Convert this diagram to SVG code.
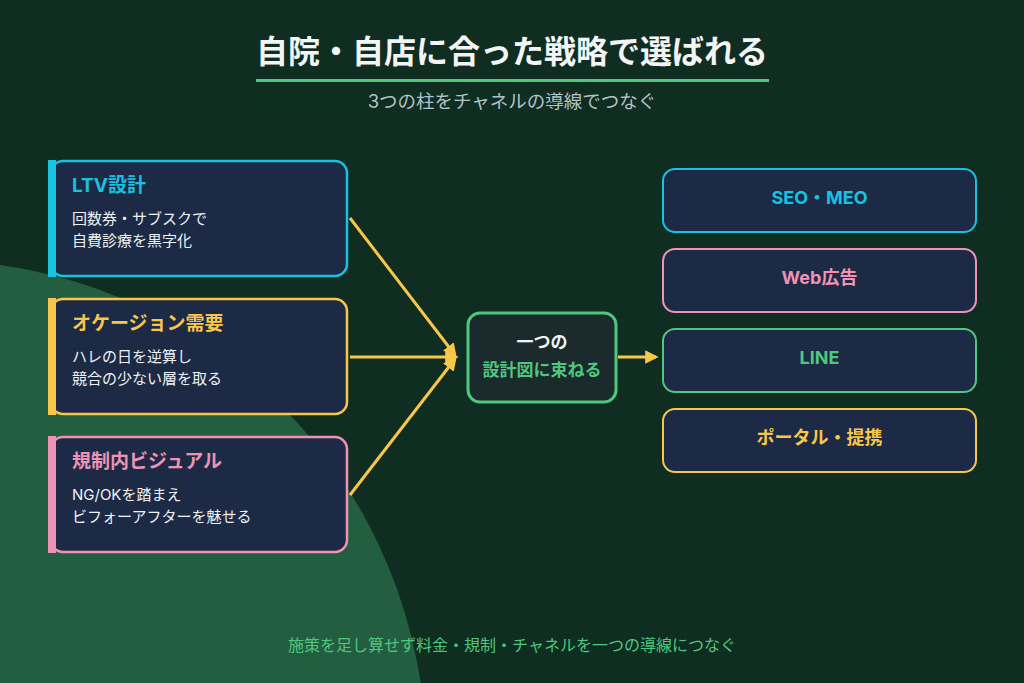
<svg xmlns="http://www.w3.org/2000/svg" width="1024" height="683" viewBox="0 0 1024 683">
<defs>
<style>
text{font-family:Inter,"Noto Sans CJK JP",sans-serif;}
.t{font-weight:700;font-size:19px;}
.tr{font-weight:700;font-size:18px;}
.b{font-size:15px;font-weight:400;fill:#eef2f5;}
.card{fill:#1d2a45;stroke-width:2.5;}
.ch{fill:#1d2a45;stroke-width:2;}
.c{text-anchor:middle;}
.conn{stroke:#f8c64b;stroke-width:3;fill:none;}
</style>
<marker id="ah" viewBox="0 0 10 10" refX="8" refY="5" markerWidth="4.5" markerHeight="4.5" orient="auto" markerUnits="strokeWidth">
<path d="M0,0 L10,5 L0,10 z" fill="#f8c64b"/>
</marker>
</defs>
<rect width="1024" height="683" fill="#0f2d21"/>
<circle cx="-70" cy="756" r="496" fill="#235e40"/>

<g id="title">
<text x="512" y="63" class="c" font-size="32" font-weight="700" fill="#f2f4f6">自院・自店に合った戦略で選ばれる</text>
<rect x="256" y="79" width="513" height="3" fill="#4fc77e"/>
<text x="512" y="108" class="c" font-size="18.5" fill="#b4c2c7">3つの柱をチャネルの導線でつなぐ</text>
</g>

<g id="connectors">
<line class="conn" x1="350" y1="218" x2="455" y2="355" marker-end="url(#ah)"/>
<line class="conn" x1="350" y1="357" x2="456" y2="357" marker-end="url(#ah)"/>
<line class="conn" x1="350" y1="495" x2="455" y2="359" marker-end="url(#ah)"/>
<line class="conn" x1="618" y1="357" x2="656" y2="357" marker-end="url(#ah)"/>
</g>

<g id="ltv">
<rect class="card" x="51" y="161" width="296" height="115" rx="12" stroke="#18c2e1"/>
<rect x="48" y="160" width="8" height="117" fill="#18c2e1"/>
<text x="72" y="192" class="t" fill="#18c2e1">LTV設計</text>
<text x="72" y="224" class="b">回数券・サブスクで</text>
<text x="72" y="246" class="b">自費診療を黒字化</text>
</g>

<g id="occasion">
<rect class="card" x="51" y="299" width="296" height="115" rx="12" stroke="#f8c64b"/>
<rect x="48" y="298" width="8" height="117" fill="#f8c64b"/>
<text x="72" y="330" class="t" fill="#f8c64b">オケージョン需要</text>
<text x="72" y="362" class="b">ハレの日を逆算し</text>
<text x="72" y="384" class="b">競合の少ない層を取る</text>
</g>

<g id="visual">
<rect class="card" x="51" y="437" width="296" height="115" rx="12" stroke="#ee93b6"/>
<rect x="48" y="436" width="8" height="117" fill="#ee93b6"/>
<text x="72" y="468" class="t" fill="#ee93b6">規制内ビジュアル</text>
<text x="72" y="500" class="b">NG/OKを踏まえ</text>
<text x="72" y="522" class="b">ビフォーアフターを魅せる</text>
</g>

<g id="hub">
<rect x="468" y="313" width="148" height="89" rx="12" fill="#1a2a2d" stroke="#4fc77e" stroke-width="3"/>
<text x="542" y="348" class="c" font-size="17" font-weight="700" fill="#f2f4f6">一つの</text>
<text x="542" y="376" class="c" font-size="17" font-weight="700" fill="#4fc77e">設計図に束ねる</text>
</g>

<g id="seo">
<rect class="ch" x="663" y="169" width="313" height="63" rx="12" stroke="#18c2e1"/>
<text x="819.5" y="204" class="c tr" fill="#18c2e1">SEO・MEO</text>
</g>
<g id="web">
<rect class="ch" x="663" y="249" width="313" height="63" rx="12" stroke="#ee93b6"/>
<text x="819.5" y="284" class="c tr" fill="#ee93b6">Web広告</text>
</g>
<g id="line">
<rect class="ch" x="663" y="329" width="313" height="63" rx="12" stroke="#4fc77e"/>
<text x="819.5" y="364" class="c tr" fill="#4fc77e">LINE</text>
</g>
<g id="portal">
<rect class="ch" x="663" y="409" width="313" height="63" rx="12" stroke="#f8c64b"/>
<text x="819.5" y="444" class="c tr" fill="#f8c64b">ポータル・提携</text>
</g>

<g id="footer">
<text x="512" y="651" class="c" font-size="16" fill="#4fc77e">施策を足し算せず料金・規制・チャネルを一つの導線につなぐ</text>
</g>
</svg>
